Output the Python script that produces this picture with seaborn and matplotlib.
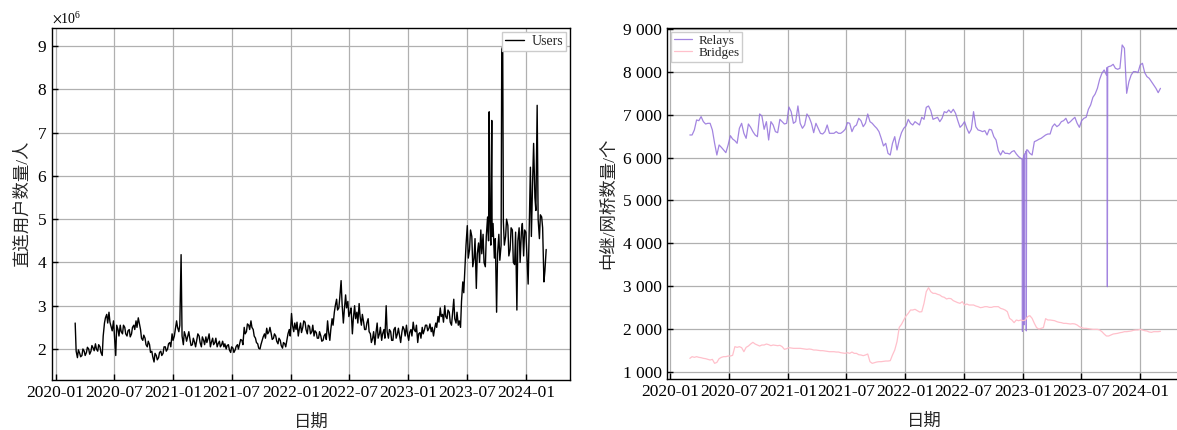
import numpy as np
import pandas as pd
import matplotlib
matplotlib.use('Agg')
import matplotlib.pyplot as plt
import matplotlib.dates as mdates
from matplotlib.ticker import FuncFormatter, ScalarFormatter
import seaborn as sns

sns.set_style('ticks')
plt.rcParams['font.family'] = ['Liberation Serif', 'Noto Sans CJK SC']
plt.rcParams['mathtext.fontset'] = 'stix'
plt.rcParams['axes.unicode_minus'] = False

# ---------------- data ----------------
week_start = '2020-03-02'
n_weeks = 210
midweek_offset_days = 3

# weekly readings of directly connected users (millions)
users_million = [
    2.60, 1.80, 1.90, 1.85, 1.95, 1.92, 2.00, 1.95, 2.02, 2.12, 1.95, 2.05, 1.85,
    2.60, 2.80, 2.85, 2.50, 2.65, 1.85, 2.45, 2.55, 2.35, 2.50, 2.30, 2.45, 2.35,
    2.55, 2.65, 2.72, 2.45, 2.20, 2.25, 2.05, 2.10, 1.95, 1.70, 1.85, 1.80, 1.95,
    1.90, 2.05, 2.00, 2.15, 2.35, 2.30, 2.65, 2.40, 4.18, 2.10, 2.30, 2.30, 2.20,
    2.10, 2.15, 2.22, 2.30, 2.05, 2.20, 2.28, 2.25, 2.05, 2.25, 2.15, 2.05, 2.18,
    2.10, 2.05, 2.00, 2.10,
    1.92, 2.02, 1.98, 2.10, 2.12, 2.20, 2.50, 2.40, 2.55, 2.65, 2.45, 2.25, 2.12,
    2.00, 2.20, 2.35, 2.48, 2.40, 2.35, 2.25, 2.30, 2.12, 2.20, 2.02, 2.12, 2.22,
    2.45, 2.82, 2.40, 2.45, 2.30, 2.60, 2.50, 2.62, 2.35, 2.52, 2.40, 2.30, 2.38,
    2.25, 2.30, 2.20, 2.35, 2.65, 2.20, 2.70, 2.85, 3.15, 2.95, 3.58, 2.60, 3.25,
    3.10, 2.85, 2.35, 3.00, 2.85, 3.05, 2.55, 2.62, 2.45, 2.70, 2.35, 2.25, 2.10,
    2.60, 2.35, 2.20, 2.45, 3.00, 2.25, 2.40, 2.20,
    2.50, 2.35, 2.30, 2.40, 2.45, 2.55, 2.20, 2.45, 2.62, 2.40, 2.15, 2.38, 2.50,
    2.45, 2.55, 2.48, 2.40, 2.30, 2.60, 2.75, 2.95, 2.80, 3.00, 2.70, 2.85, 2.55,
    3.15, 2.60, 2.55, 2.50, 3.55, 3.95, 4.85, 4.30, 4.60, 4.10, 3.40, 4.45, 4.75, 4.65, 3.90,
    5.05, 5.10, 4.60, 4.10, 2.85, 4.65, 4.40, 4.95, 4.60, 4.85, 4.30, 4.75, 3.95,
    2.90, 4.80, 4.70, 4.15, 4.70, 3.50, 6.20, 5.90, 5.50, 7.63, 4.55, 5.05, 3.55, 4.30,
]
# mid-week readings (the other edge of the noisy band), millions
users_mid_million = [
    1.95, 1.98, 1.82, 2.00, 1.85, 2.04, 1.88, 2.08, 1.96, 2.00, 2.10, 1.92, 2.30,
    2.72, 2.60, 2.62, 2.42, 2.30, 2.55, 2.30, 2.40, 2.55, 2.35, 2.42, 2.28, 2.50,
    2.45, 2.50, 2.60, 2.25, 2.32, 2.10, 2.18, 1.92, 1.82, 1.90, 1.75, 1.92, 1.85,
    2.05, 1.95, 2.12, 2.05, 2.20, 2.45, 2.50, 2.55, 2.30, 2.40, 2.18, 2.40, 2.08,
    2.25, 2.05, 2.35, 2.15, 2.28, 2.10, 2.15, 2.35, 2.15, 2.10, 2.25, 2.12, 2.05,
    2.18, 2.12, 2.08, 1.98,
    2.05, 1.92, 2.06, 2.00, 2.22, 2.10, 2.35, 2.58, 2.45, 2.50, 2.30, 2.15, 2.02,
    2.10, 2.28, 2.25, 2.35, 2.50, 2.22, 2.35, 2.18, 2.25, 2.08, 2.15, 2.05, 2.35,
    2.30, 2.55, 2.60, 2.62, 2.45, 2.38, 2.65, 2.45, 2.55, 2.35, 2.55, 2.42, 2.25,
    2.40, 2.18, 2.30, 2.22, 2.40, 2.45, 2.55, 3.00, 2.90, 3.20, 3.05, 2.90, 2.95,
    2.75, 2.95, 2.70, 2.70, 2.60, 2.75, 2.80, 2.45, 2.60, 2.40, 2.15, 2.40, 2.35,
    2.25, 2.50, 2.35, 2.25, 2.40, 2.45, 2.20, 2.45,
    2.25, 2.48, 2.15, 2.52, 2.30, 2.35, 2.38, 2.30, 2.45, 2.55, 2.35, 2.25, 2.35,
    2.55, 2.42, 2.58, 2.50, 2.45, 2.50, 2.62, 2.75, 2.62, 2.75, 2.90, 2.62, 2.80,
    2.70, 2.85, 2.65, 3.10, 3.30, 4.40, 4.10, 4.75, 3.90, 4.55, 4.20, 4.00, 4.20, 4.00, 4.60,
    4.50, 4.40, 4.90, 4.55, 4.20, 4.05, 8.95, 4.40, 5.00, 4.15, 4.80, 4.00, 4.70,
    4.50, 4.00, 4.90, 4.75, 4.20, 4.70, 4.60, 6.75, 5.20, 5.00, 5.10, 4.80, 3.80,
]
user_event_dates = ['2023-09-09', '2023-09-17', '2023-10-18', '2023-10-21']
user_event_million = [7.48, 7.28, 8.92, 8.98]

relays = [
    6528, 6528, 6645, 6878, 6862, 6956, 6839, 6784, 6800, 6800, 6645, 6334, 6061,
    6295, 6240, 6178, 6116, 6295, 6512, 6434, 6395, 6334, 6684, 6800, 6567, 6450,
    6784, 6707, 6606, 6528, 6489, 7018, 6971, 6660, 6839, 6411, 6839, 6761, 6606,
    6582, 6893, 6839, 6784, 6800, 7180, 7072, 6800, 6839, 7205, 6800, 6684, 6761,
    7018, 6940, 6800, 6582, 6800, 6684, 6567, 6551, 6606, 6761, 6567, 6567, 6567,
    6606, 6567, 6567, 6606, 6660, 6816, 6800, 6606, 6722, 6761, 6917, 6862, 6722,
    6800, 7018, 6839, 6800, 6738, 6684, 6606, 6450, 6272, 6334, 6100, 6061, 6334,
    6489, 6178, 6411, 6582, 6684, 6738, 6893, 6800,
    6761, 6839, 6800, 6761, 6940, 6893, 7173, 7204, 7096, 6893, 6917, 6940, 6839,
    6917, 7072, 7049, 7111, 7049, 7127, 7034, 6862, 6707, 6761, 6839, 6684, 6567,
    6660, 7072, 6722, 6645, 6629, 6606, 6629, 6528, 6660, 6645, 6489, 6411, 6163,
    6061, 6163, 6100, 6100, 6085, 6139, 6163, 6085, 6023, 5984, 5945, 6100, 6178,
    6100, 6061, 6372, 6396, 6427, 6450, 6489, 6528, 6551, 6551, 6722, 6785, 6722,
    6761, 6839, 6862, 6917, 6800, 6839, 6893, 6940, 6800, 6707, 6862, 6917, 6940,
    7127, 7228, 7406, 7484, 7616, 7826, 7966, 8044, 7927, 8122, 8137, 8176, 8083,
    8060, 8083, 8627, 8550, 7500, 7772, 7927, 8005, 8005, 7982, 8161, 8200, 7982,
    7889, 7850, 7772, 7694, 7616, 7515, 7616,
]
relay_event_dates = ['2022-12-30', '2022-12-31', '2023-01-01',
                     '2023-01-04', '2023-01-05', '2023-01-06',
                     '2023-01-11', '2023-01-12', '2023-01-13',
                     '2023-09-20', '2023-09-21', '2023-09-22']
relay_event_values = [5960, 1950, 5950,
                      6050, 2100, 6080,
                      6150, 1960, 6180,
                      8100, 2990, 8110]

bridges = [
    1319, 1358, 1342, 1358, 1342, 1334, 1319, 1311, 1295, 1280, 1295, 1202, 1225,
    1311, 1342, 1358, 1358, 1373, 1373, 1389, 1591, 1575, 1591, 1568, 1474, 1575,
    1606, 1653, 1692, 1653, 1630, 1606, 1630, 1630, 1653, 1638, 1614, 1630, 1622,
    1614, 1622, 1591, 1529, 1544, 1568, 1560, 1552, 1552, 1552, 1552, 1544, 1537,
    1529, 1537, 1529, 1513, 1513, 1505, 1498, 1498, 1490, 1482, 1474, 1474, 1474,
    1466, 1466, 1451, 1443, 1435, 1451, 1435, 1466, 1435, 1435, 1404, 1397, 1381,
    1397, 1420, 1241, 1202, 1218, 1233, 1241, 1241, 1249, 1256, 1256, 1264, 1397,
    1513, 1707, 2042, 2112, 2213, 2306, 2368, 2446, 2446, 2462, 2431, 2400,
    2407, 2602, 2874, 2967, 2874, 2835, 2835, 2812, 2796, 2757, 2742, 2703, 2718,
    2710, 2664, 2641, 2617, 2602, 2641, 2563, 2586, 2563, 2563, 2563, 2539, 2524,
    2501, 2508, 2524, 2524, 2508, 2508, 2524, 2524, 2524, 2485, 2469, 2446, 2407,
    2252, 2213, 2151, 2213, 2197, 2213, 2197, 2213, 2291, 2314, 2252, 2135, 2034,
    2003, 2019, 2034, 2244, 2213, 2213, 2205, 2197, 2174, 2159, 2151, 2135, 2135,
    2127, 2120, 2127, 2120, 2096, 2057, 2034, 2019, 2019, 2011, 2003, 1995, 1995,
    1995, 1980, 1941, 1886, 1840, 1840, 1863, 1886, 1894, 1902, 1917, 1925, 1941,
    1941, 1949, 1956, 1972, 1980, 1980, 1995, 1980, 1964, 1956, 1933, 1925, 1941, 1941, 1941, 1949,
]

x_tick_dates = ['2020-01-01', '2020-07-01', '2021-01-01', '2021-07-01', '2022-01-01',
                '2022-07-01', '2023-01-01', '2023-07-01', '2024-01-01']
left_y_ticks_million = [2, 3, 4, 5, 6, 7, 8, 9]
right_y_ticks = [1000, 2000, 3000, 4000, 5000, 6000, 7000, 8000, 9000]

assert len(users_million) == n_weeks and len(relays) == n_weeks and len(bridges) == n_weeks
assert len(users_mid_million) == n_weeks - 1

# ---------------- build tables ----------------
weeks = pd.date_range(week_start, periods=n_weeks, freq='7D')
mid_dates = weeks[:-1] + pd.Timedelta(days=midweek_offset_days)
users_df = pd.concat([
    pd.DataFrame({'date': weeks, 'value': np.array(users_million) * 1e6}),
    pd.DataFrame({'date': mid_dates, 'value': np.array(users_mid_million) * 1e6}),
    pd.DataFrame({'date': pd.to_datetime(user_event_dates),
                  'value': np.array(user_event_million) * 1e6}),
]).sort_values('date').reset_index(drop=True)
relays_df = pd.concat([
    pd.DataFrame({'date': weeks, 'value': relays}),
    pd.DataFrame({'date': pd.to_datetime(relay_event_dates), 'value': relay_event_values}),
]).sort_values('date').reset_index(drop=True)
bridges_df = pd.DataFrame({'date': weeks, 'value': bridges})

# ---------------- figure ----------------
fig = plt.figure(figsize=(11.77, 4.30), dpi=100)
ax1 = fig.add_axes([52 / 1177, 50 / 430, 518 / 1177, 352 / 430])
ax2 = fig.add_axes([667 / 1177, 51 / 430, 515 / 1177, 351 / 430])

tick_fs = 12.5
label_fs = 12.5

sns.lineplot(data=users_df, x='date', y='value', ax=ax1, color='black',
             linewidth=1.0, label='Users', estimator=None, sort=True)
sns.lineplot(data=relays_df, x='date', y='value', ax=ax2, color='mediumpurple',
             alpha=0.85, linewidth=0.9, label='Relays', estimator=None, sort=True)
sns.lineplot(data=bridges_df, x='date', y='value', ax=ax2, color='pink',
             linewidth=0.9, label='Bridges', estimator=None, sort=True)

xt = pd.to_datetime(x_tick_dates)
for ax in (ax1, ax2):
    ax.set_xticks(xt)
    ax.xaxis.set_major_formatter(mdates.DateFormatter('%Y-%m'))
    ax.grid(True, color='#b0b0b0', linewidth=0.9)
    ax.set_axisbelow(True)
    ax.tick_params(direction='in', length=4, width=1.0, labelsize=tick_fs,
                   top=False, right=False, colors='black')
    for s in ax.spines.values():
        s.set_visible(True)
        s.set_color('black')
        s.set_linewidth(1.0)
    ax.set_xlabel('日期', fontsize=label_fs, labelpad=10)

ax1.set_xlim(pd.Timestamp('2019-12-21'), pd.Timestamp('2024-05-17'))
ax2.set_xlim(pd.Timestamp('2019-12-22'), pd.Timestamp('2024-05-10'))

ax1.set_yticks(np.array(left_y_ticks_million) * 1e6)
ax1.set_ylim(1.284e6, 9.416e6)
fmt = ScalarFormatter(useMathText=True)
fmt.set_powerlimits((6, 6))
ax1.yaxis.set_major_formatter(fmt)
ax1.yaxis.get_offset_text().set_fontsize(10)
ax1.set_ylabel('直连用户数量/人', fontsize=label_fs)

ax2.set_yticks(right_y_ticks)
ax2.set_ylim(837, 9023)
ax2.yaxis.set_major_formatter(FuncFormatter(lambda v, p: f'{int(v):,}'.replace(',', ' ')))
ax2.set_ylabel('中继/网桥数量/个', fontsize=label_fs)

ax1.legend(loc='upper right', fontsize=10, handlelength=1.4, borderpad=0.2,
           labelspacing=0.1, handletextpad=0.5, borderaxespad=0.3,
           fancybox=False, edgecolor='#cccccc', framealpha=1.0)
ax2.legend(loc='upper left', fontsize=9.5, handlelength=1.4, borderpad=0.2,
           labelspacing=0.0, handletextpad=0.5, borderaxespad=0.3,
           fancybox=False, edgecolor='#cccccc', framealpha=1.0)

fig.savefig('out.png', dpi=100)
